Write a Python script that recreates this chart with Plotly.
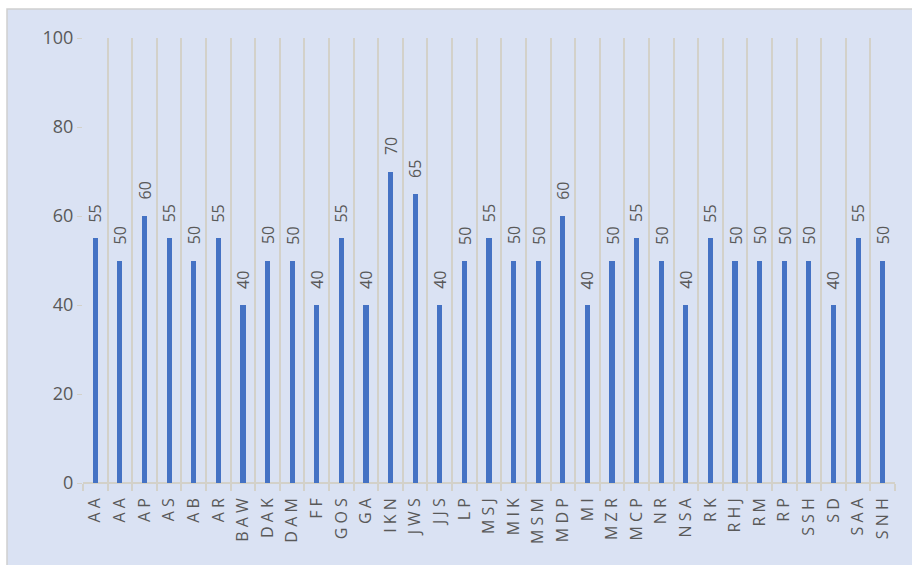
import plotly.graph_objects as go

# Participant initials and their scores
names = ["AA", "AA", "AP", "AS", "AB", "AR", "BAW", "DAK", "DAM", "FF", "GOS", "GA",
         "IKN", "JWS", "JJS", "LP", "MSJ", "MIK", "MSM", "MDP", "MI", "MZR", "MCP",
         "NR", "NSA", "RK", "RHJ", "RM", "RP", "SSH", "SD", "SAA", "SNH"]
scores = [55, 50, 60, 55, 50, 55, 40, 50, 50, 40, 55, 40, 70, 65, 40, 50, 55, 50,
          50, 60, 40, 50, 55, 50, 40, 55, 50, 50, 50, 50, 40, 55, 50]
y_ticks = [0, 20, 40, 60, 80, 100]

positions = list(range(len(names)))
spaced = [" ".join(n) for n in names]
boundaries = [p - 0.5 for p in positions] + [positions[-1] + 0.5]

W, H = 912, 565
L, R, T, B = 83, 17, 38, 82
pw, ph = W - L - R, H - T - B

BG = "#DAE2F3"
GRID = "#D3D1C9"
TXT = "#595959"

fig = go.Figure()
fig.add_trace(go.Bar(
    x=positions, y=scores, width=0.21,
    marker=dict(color="#4472C4", line=dict(width=0)),
    hoverinfo="skip",
))
# invisible trace to bind the boundary-grid axis
fig.add_trace(go.Scatter(x=[boundaries[0], boundaries[-1]], y=[0, 0], xaxis="x2",
                         mode="lines", line=dict(width=0), hoverinfo="skip",
                         showlegend=False))

# value labels above each bar
for xp, v in zip(positions, scores):
    fig.add_annotation(x=xp, y=v, text=str(v), textangle=-90, showarrow=False,
                       xanchor="center", yanchor="bottom", yshift=14,
                       font=dict(family="Open Sans", size=16, color=TXT))

fig.update_layout(
    width=W, height=H,
    margin=dict(l=L, r=R, t=T, b=B),
    paper_bgcolor="white", plot_bgcolor="rgba(0,0,0,0)",
    showlegend=False, bargap=0,
    xaxis=dict(range=[boundaries[0], boundaries[-1]], tickvals=positions,
               ticktext=spaced, tickangle=-90, showgrid=False, zeroline=False,
               showline=False, ticks="", ticklabelstandoff=11,
               tickfont=dict(family="Open Sans", size=16, color=TXT)),
    xaxis2=dict(overlaying="x", range=[boundaries[0], boundaries[-1]],
                tickvals=boundaries, showticklabels=False, showgrid=True,
                gridcolor=GRID, gridwidth=1.5, ticks="outside", ticklen=7,
                tickcolor=GRID, tickwidth=1.5, zeroline=False, side="bottom",
                anchor="y"),
    yaxis=dict(range=[0, 100], tickvals=y_ticks, showgrid=False, zeroline=True,
               zerolinecolor=GRID, zerolinewidth=1.5, ticks="outside", ticklen=5,
               tickcolor=GRID, showline=False,
               tickfont=dict(family="Open Sans", size=18, color=TXT)),
    shapes=[dict(type="rect", xref="paper", yref="paper", layer="below",
                 x0=(7 - L) / pw, x1=(W + 5 - L) / pw,
                 y0=-(H + 5 - T - ph) / ph, y1=(ph + T - 9) / ph,
                 fillcolor=BG, line=dict(color="#CFCFCF", width=1.5))],
)

fig.write_html("out.html")
